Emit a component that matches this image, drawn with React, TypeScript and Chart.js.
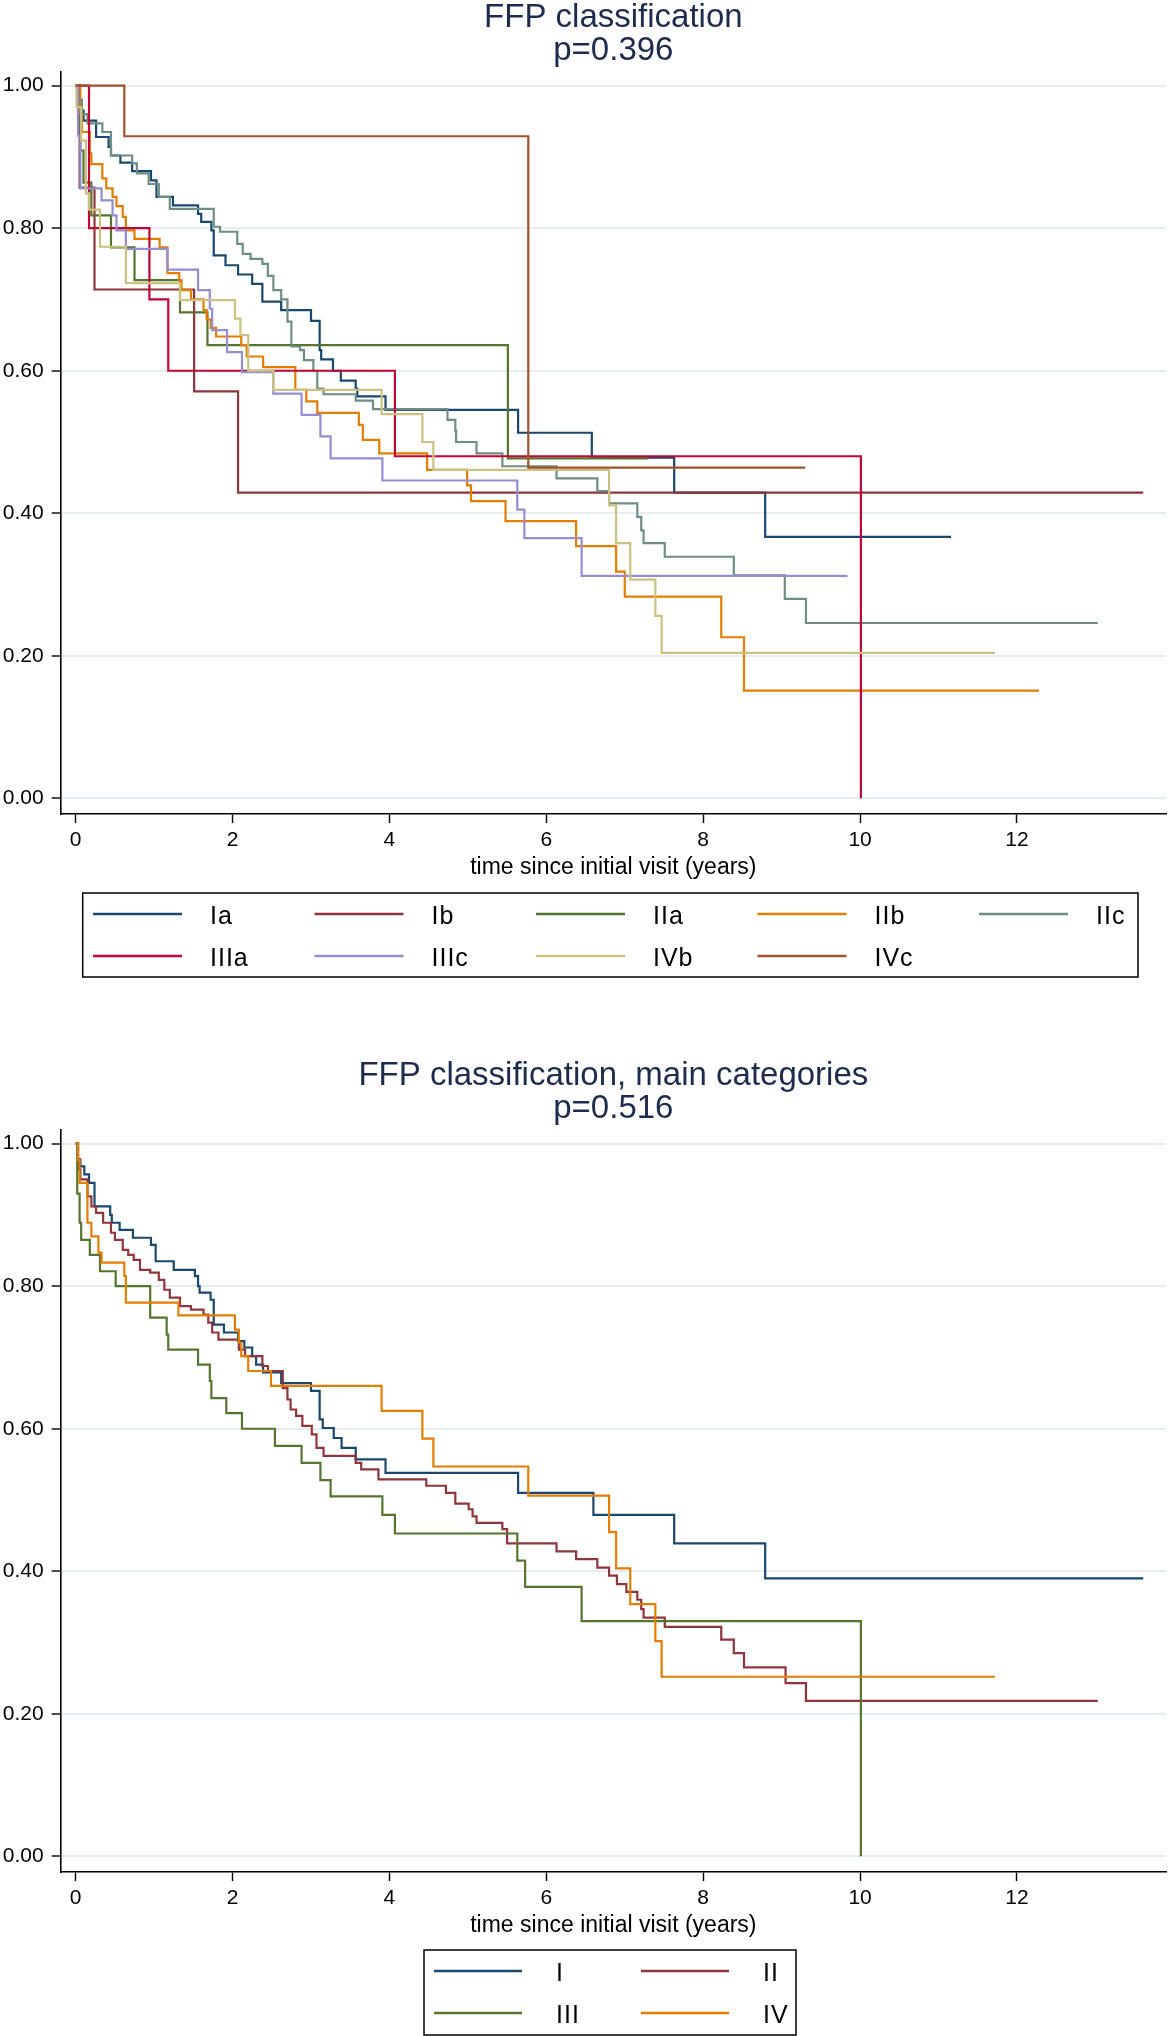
import React, { useEffect, useRef } from 'react';
import { Chart, registerables } from 'chart.js';

Chart.register(...registerables);

const FONT = '"Liberation Sans", Arial, Helvetica, sans-serif';

// ---------- shared axes ----------
const xTicks = [0, 2, 4, 6, 8, 10, 12];
const yTicks = [0, 0.2, 0.4, 0.6, 0.8, 1.0];
const xAxisTitle = 'time since initial visit (years)';

// ---------- top chart ----------
const topTitle = ['FFP classification', 'p=0.396'];
const topLabels = ['Ia', 'Ib', 'IIa', 'IIb', 'IIc', 'IIIa', 'IIIc', 'IVb', 'IVc'];
const topColors = ['#1a476f', '#90353b', '#55752f', '#e37e00', '#6e8e84', '#c10534', '#938dd2', '#cac27e', '#a0522d'];

const tIa = [0, 0.03, 0.06, 0.10, 0.26, 0.42, 0.45, 0.57, 0.72, 0.96, 1.03, 1.24, 1.56, 1.60, 1.73, 1.76, 1.91, 2.07, 2.25, 2.38, 2.62, 3.00, 3.11, 3.13, 3.28, 3.38, 3.57, 3.59, 3.95, 5.64, 6.58, 7.63, 8.79, 11.16];
const sIa = [1, 0.98, 0.965, 0.951, 0.928, 0.914, 0.902, 0.892, 0.88, 0.867, 0.844, 0.832, 0.82, 0.809, 0.797, 0.762, 0.748, 0.735, 0.722, 0.697, 0.685, 0.67, 0.629, 0.616, 0.60, 0.586, 0.575, 0.564, 0.545, 0.513, 0.478, 0.429, 0.367, 0.367];

const tIb = [0, 0.05, 0.24, 1.51, 2.07, 13.61];
const sIb = [1, 0.857, 0.714, 0.571, 0.429, 0.429];

const tIIa = [0, 0.03, 0.06, 0.10, 0.20, 0.45, 0.75, 1.33, 1.68, 5.51, 7.30];
const sIIa = [1, 0.955, 0.909, 0.864, 0.818, 0.773, 0.727, 0.682, 0.636, 0.477, 0.477];

const tIIb = [0, 0.06, 0.08, 0.18, 0.20, 0.34, 0.39, 0.47, 0.52, 0.60, 0.64, 0.75, 1.07, 1.17, 1.32, 1.35, 1.47, 1.63, 1.67, 1.72, 1.79, 2.11, 2.18, 2.39, 2.80, 2.94, 3.08, 3.61, 3.66, 3.87, 4.48, 4.99, 5.04, 5.48, 6.38, 6.89, 7.00, 8.23, 8.52, 12.28];
const sIIb = [1, 0.96, 0.935, 0.905, 0.89, 0.87, 0.856, 0.844, 0.831, 0.816, 0.797, 0.785, 0.773, 0.737, 0.727, 0.713, 0.70, 0.685, 0.672, 0.66, 0.648, 0.636, 0.62, 0.605, 0.573, 0.557, 0.541, 0.524, 0.503, 0.484, 0.461, 0.439, 0.417, 0.389, 0.354, 0.318, 0.283, 0.226, 0.151, 0.151];

const tIIc = [0, 0.03, 0.08, 0.15, 0.34, 0.45, 0.72, 0.78, 0.93, 1.06, 1.20, 1.76, 1.84, 2.06, 2.13, 2.23, 2.38, 2.45, 2.52, 2.62, 2.70, 2.75, 2.86, 2.91, 3.03, 3.08, 3.16, 3.57, 3.79, 4.74, 4.84, 4.85, 5.11, 5.44, 6.13, 6.65, 6.80, 7.16, 7.21, 7.24, 7.51, 8.39, 9.04, 9.31, 13.03];
const sIIc = [1, 0.98, 0.96, 0.947, 0.935, 0.902, 0.891, 0.877, 0.862, 0.844, 0.827, 0.802, 0.795, 0.778, 0.764, 0.757, 0.75, 0.733, 0.713, 0.70, 0.669, 0.634, 0.629, 0.615, 0.60, 0.575, 0.567, 0.558, 0.546, 0.531, 0.516, 0.50, 0.484, 0.466, 0.449, 0.431, 0.414, 0.395, 0.376, 0.358, 0.339, 0.313, 0.28, 0.246, 0.246];

const tIIIa = [0, 0.17, 0.94, 1.18, 4.07, 10.01];
const sIIIa = [1, 0.8, 0.7, 0.6, 0.48, 0];

const tIIIc = [0, 0.03, 0.06, 0.33, 0.47, 0.52, 0.64, 1.17, 1.56, 1.71, 1.74, 1.93, 2.12, 2.52, 2.88, 3.12, 3.25, 3.91, 5.63, 5.72, 6.45, 9.84];
const sIIIc = [1, 0.93, 0.856, 0.839, 0.818, 0.797, 0.771, 0.742, 0.713, 0.687, 0.657, 0.626, 0.598, 0.568, 0.538, 0.508, 0.477, 0.446, 0.405, 0.365, 0.312, 0.312];

const tIVb = [0, 0.01, 0.07, 0.13, 0.17, 0.31, 0.64, 1.33, 2.03, 2.10, 2.20, 2.52, 3.90, 4.42, 4.56, 6.80, 6.89, 7.07, 7.39, 7.47, 11.72];
const sIVb = [1, 0.97, 0.923, 0.849, 0.826, 0.774, 0.723, 0.699, 0.673, 0.65, 0.60, 0.573, 0.539, 0.50, 0.461, 0.411, 0.358, 0.307, 0.256, 0.204, 0.204];

const tIVc = [0, 0.62, 5.77, 9.30];
const sIVc = [1, 0.929, 0.464, 0.464];

// ---------- bottom chart ----------
const bottomTitle = ['FFP classification, main categories', 'p=0.516'];
const bottomLabels = ['I', 'II', 'III', 'IV'];
const bottomColors = ['#1a476f', '#90353b', '#55752f', '#e37e00'];

const tI = [0, 0.03, 0.06, 0.11, 0.17, 0.24, 0.44, 0.46, 0.56, 0.73, 0.96, 1.02, 1.25, 1.52, 1.56, 1.58, 1.72, 1.76, 1.89, 2.07, 2.15, 2.25, 2.30, 2.39, 2.62, 3.00, 3.11, 3.15, 3.29, 3.39, 3.57, 3.95, 5.64, 6.60, 7.63, 8.79, 13.61];
const sI = [1, 0.978, 0.968, 0.957, 0.945, 0.912, 0.90, 0.889, 0.879, 0.868, 0.858, 0.835, 0.823, 0.814, 0.80, 0.791, 0.781, 0.746, 0.735, 0.723, 0.714, 0.702, 0.69, 0.679, 0.664, 0.653, 0.613, 0.601, 0.587, 0.573, 0.557, 0.538, 0.51, 0.479, 0.439, 0.39, 0.39];

const tII = [0, 0.03, 0.06, 0.15, 0.20, 0.26, 0.35, 0.45, 0.50, 0.60, 0.67, 0.74, 0.82, 0.95, 1.06, 1.13, 1.20, 1.33, 1.47, 1.63, 1.69, 1.74, 1.82, 2.08, 2.16, 2.38, 2.45, 2.64, 2.70, 2.74, 2.81, 2.89, 3.01, 3.07, 3.16, 3.57, 3.64, 3.86, 4.47, 4.72, 4.84, 5.01, 5.06, 5.11, 5.44, 5.50, 6.13, 6.38, 6.65, 6.80, 6.90, 7.02, 7.16, 7.21, 7.24, 7.51, 8.23, 8.39, 8.52, 9.05, 9.31, 13.03];
const sII = [1, 0.964, 0.95, 0.926, 0.912, 0.903, 0.889, 0.875, 0.865, 0.851, 0.844, 0.837, 0.823, 0.819, 0.809, 0.795, 0.784, 0.772, 0.767, 0.76, 0.749, 0.735, 0.725, 0.711, 0.702, 0.688, 0.681, 0.657, 0.641, 0.627, 0.618, 0.604, 0.592, 0.573, 0.562, 0.552, 0.543, 0.529, 0.52, 0.51, 0.495, 0.487, 0.477, 0.468, 0.459, 0.439, 0.428, 0.417, 0.405, 0.394, 0.382, 0.371, 0.36, 0.347, 0.335, 0.322, 0.304, 0.285, 0.265, 0.243, 0.218, 0.218];

const tIII = [0, 0.02, 0.05, 0.07, 0.18, 0.31, 0.51, 0.95, 1.16, 1.18, 1.56, 1.71, 1.73, 1.92, 2.12, 2.54, 2.88, 3.12, 3.25, 3.91, 4.07, 5.63, 5.73, 6.45, 10.01];
const sIII = [1, 0.93, 0.889, 0.865, 0.844, 0.821, 0.80, 0.756, 0.732, 0.711, 0.69, 0.667, 0.643, 0.622, 0.60, 0.576, 0.552, 0.528, 0.505, 0.479, 0.453, 0.415, 0.378, 0.33, 0];

const tIV = [0, 0.03, 0.05, 0.15, 0.20, 0.29, 0.33, 0.62, 0.64, 1.31, 2.03, 2.08, 2.11, 2.20, 2.49, 3.90, 4.42, 4.56, 5.77, 6.80, 6.89, 7.07, 7.39, 7.47, 11.72];
const sIV = [1, 0.977, 0.945, 0.889, 0.87, 0.847, 0.833, 0.814, 0.777, 0.759, 0.739, 0.721, 0.702, 0.681, 0.66, 0.625, 0.586, 0.547, 0.506, 0.455, 0.404, 0.354, 0.302, 0.252, 0.252];

const topSeries = [[tIa, sIa], [tIb, sIb], [tIIa, sIIa], [tIIb, sIIb], [tIIc, sIIc], [tIIIa, sIIIa], [tIIIc, sIIIc], [tIVb, sIVb], [tIVc, sIVc]];
const bottomSeries = [[tI, sI], [tII, sII], [tIII, sIII], [tIV, sIV]];

// ---------- geometry / style ----------
const PAGE_W = 1168;
const PLOT_LEFT = 60.7;
const PLOT_TOP = 71.7;
const PLOT_BOTTOM = 814;
const PLOT_RIGHT_PAD = 2;
const X_MIN = -0.191;
const X_MAX = 13.9;
const Y_MIN = -0.022;
const Y_MAX = 1.0196;
const TITLE_COLOR = '#1d2b4f';
const TITLE_BASELINES = [27, 60];
const AXIS_TITLE_BASELINE = 873.5;

const topLegend = { x: 82.7, y: 893, w: 1055.3, h: 84, cols: 5, rows: [21, 63], lineStart: 10.3, colW: 221.5, lineLen: 89, labelOffset: 117 };
const bottomLegend = { x: 424, y: 892, w: 372, h: 85, cols: 2, rows: [21, 63], lineStart: 10, colW: 207, lineLen: 88, labelOffset: 122 };

function makeDecor(title: string[], labels: string[], colors: string[], lg: any) {
  return {
    id: 'kmDecor',
    afterDraw(chart: any) {
      const { ctx, chartArea } = chart;
      const cx = (chartArea.left + chartArea.right) / 2;
      ctx.save();
      ctx.textAlign = 'center';
      ctx.textBaseline = 'alphabetic';
      ctx.fillStyle = TITLE_COLOR;
      ctx.font = `33px ${FONT}`;
      title.forEach((line, i) => ctx.fillText(line, cx, TITLE_BASELINES[i]));
      ctx.fillStyle = '#000';
      ctx.font = `23px ${FONT}`;
      ctx.fillText(xAxisTitle, cx, AXIS_TITLE_BASELINE);
      // legend box
      ctx.lineWidth = 1.5;
      ctx.strokeStyle = '#000';
      ctx.strokeRect(lg.x, lg.y, lg.w, lg.h);
      ctx.font = `25px ${FONT}`;
      ctx.textAlign = 'left';
      try { (ctx as any).letterSpacing = '1px'; } catch (e) { /* ignore */ }
      labels.forEach((lab, k) => {
        const r = Math.floor(k / lg.cols);
        const c = k % lg.cols;
        const ly = lg.y + lg.rows[r];
        const lx = lg.x + lg.lineStart + c * lg.colW;
        ctx.strokeStyle = colors[k];
        ctx.lineWidth = 2.6;
        ctx.beginPath();
        ctx.moveTo(lx, ly);
        ctx.lineTo(lx + lg.lineLen, ly);
        ctx.stroke();
        ctx.fillStyle = '#000';
        ctx.fillText(lab, lx + lg.labelOffset, ly + 10);
      });
      try { (ctx as any).letterSpacing = '0px'; } catch (e) { /* ignore */ }
      ctx.restore();
    },
  };
}

function KMChart(props: { top: number; height: number; series: number[][][]; labels: string[]; colors: string[]; title: string[]; legend: any }) {
  const ref = useRef<HTMLCanvasElement>(null);
  const { top, height, series, labels, colors, title, legend } = props;
  useEffect(() => {
    const n = series.length;
    const datasets = series.map(([t, s], i) => ({
      label: labels[i],
      data: t.map((x, j) => ({ x, y: s[j] })),
      borderColor: colors[i],
      backgroundColor: colors[i],
      borderWidth: 2.2,
      pointRadius: 0,
      pointHoverRadius: 0,
      stepped: 'before' as const,
      fill: false,
      tension: 0,
      order: n - i,
    }));
    const chart = new Chart(ref.current as HTMLCanvasElement, {
      type: 'line',
      data: { datasets },
      options: {
        animation: false,
        responsive: false,
        maintainAspectRatio: false,
        devicePixelRatio: 1,
        layout: { padding: { top: PLOT_TOP, left: 0, right: PLOT_RIGHT_PAD, bottom: 0 } },
        plugins: { legend: { display: false }, tooltip: { enabled: false }, title: { display: false } },
        scales: {
          x: {
            type: 'linear',
            min: X_MIN,
            max: X_MAX,
            afterBuildTicks: (sc: any) => { sc.ticks = xTicks.map((v) => ({ value: v })); },
            afterFit: (sc: any) => { sc.height = height - PLOT_BOTTOM; },
            grid: { display: true, drawOnChartArea: false, drawTicks: true, tickLength: 9, tickColor: '#000', tickWidth: 1.4 },
            border: { display: true, color: '#000', width: 1.6 },
            ticks: { color: '#000', font: { family: FONT, size: 21 }, padding: 5, maxRotation: 0, autoSkip: false, callback: (v: any) => String(v) },
          },
          y: {
            type: 'linear',
            min: Y_MIN,
            max: Y_MAX,
            afterBuildTicks: (sc: any) => { sc.ticks = yTicks.map((v) => ({ value: v })); },
            afterFit: (sc: any) => { sc.width = PLOT_LEFT; },
            grid: { display: true, drawOnChartArea: true, color: '#e6eef2', lineWidth: 2, drawTicks: true, tickLength: 9, tickColor: '#000', tickWidth: 1.4 },
            border: { display: true, color: '#000', width: 1.6 },
            ticks: { color: '#000', font: { family: FONT, size: 21 }, padding: 8, autoSkip: false, callback: (v: any) => Number(v).toFixed(2) },
          },
        },
      },
      plugins: [makeDecor(title, labels, colors, legend)],
    } as any);
    return () => chart.destroy();
  }, []);
  return (
    <canvas
      ref={ref}
      width={PAGE_W}
      height={height}
      style={{ position: 'absolute', left: 0, top, width: PAGE_W, height, display: 'block' }}
    />
  );
}

export default function App() {
  return (
    <div style={{ position: 'absolute', left: 0, top: 0, width: 1168, height: 2036, background: '#fff', overflow: 'hidden' }}>
      <KMChart top={0} height={1000} series={topSeries} labels={topLabels} colors={topColors} title={topTitle} legend={topLegend} />
      <KMChart top={1058} height={978} series={bottomSeries} labels={bottomLabels} colors={bottomColors} title={bottomTitle} legend={bottomLegend} />
    </div>
  );
}
